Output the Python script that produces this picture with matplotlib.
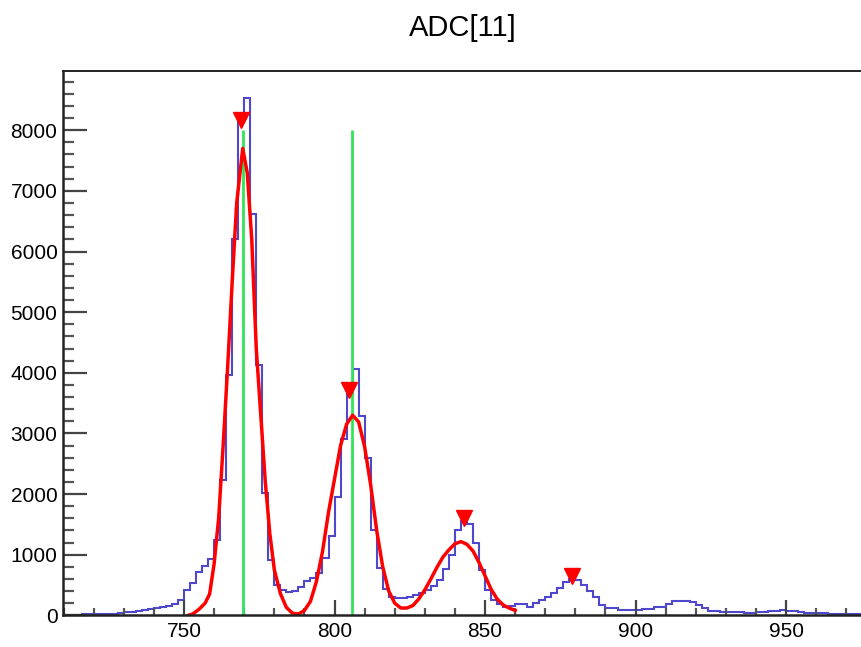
import numpy as np
import matplotlib
matplotlib.use('Agg')
import matplotlib.pyplot as plt
from matplotlib.ticker import MultipleLocator

plt.rcParams['font.family'] = ['Liberation Sans', 'DejaVu Sans']

# histogram: 2-unit bins starting at 710
bin_start = 710
bin_width = 2
counts = [0, 0, 0, 15, 15, 15, 15, 15, 20, 40,
          55, 60, 75, 90, 100, 115, 130, 150, 185, 260,
          420, 540, 720, 820, 930, 1240, 2230, 3960, 6200, 8130,
          8530, 6620, 4130, 2010, 920, 500, 420, 380, 400, 470,
          560, 610, 700, 950, 1300, 1950, 2900, 3650, 4060, 3290,
          2590, 1410, 775, 430, 300, 280, 285, 300, 330, 370,
          420, 490, 580, 760, 1000, 1410, 1550, 1510, 1190, 750,
          420, 250, 180, 145, 150, 185, 180, 145, 200, 250,
          300, 360, 445, 555, 600, 590, 500, 400, 300, 170,
          120, 115, 90, 90, 90, 95, 110, 110, 140, 140,
          190, 240, 240, 240, 215, 170, 120, 75, 75, 50,
          50, 50, 50, 35, 45, 60, 60, 75, 75, 85,
          65, 75, 60, 35, 35, 40, 30, 20, 15, 15,
          15, 15, 15, 15]

# fitted curve
fit_x = [751.5, 753, 755, 757, 758.5, 760, 761.5, 763, 764.5, 766,
         767.5, 769.5, 771, 772.5, 774, 775.5, 777, 778.5, 780, 782,
         784, 786, 788, 790, 792, 794, 796, 798, 800, 802,
         804, 806, 808, 810, 812, 814, 816, 818, 820, 822,
         824, 826, 828, 830, 832, 834, 836, 838, 840, 842,
         844, 846, 848, 850, 852, 854, 856, 858, 860]
fit_y = [0, 25, 100, 200, 350, 850, 1600, 2800, 4100, 5500,
         6800, 7700, 7300, 6200, 4400, 3300, 2200, 1350, 750, 360,
         130, 35, 20, 80, 230, 560, 1050, 1700, 2250, 2800,
         3150, 3300, 3190, 2780, 2150, 1400, 800, 400, 200, 120,
         120, 160, 270, 420, 600, 790, 960, 1080, 1180, 1215,
         1170, 1060, 870, 650, 430, 270, 170, 120, 80]

# peaks found
peak_x = [768.9, 804.8, 843.0, 879.0]
peak_y = [8170, 3716, 1605, 650]

# calibration lines
line_x = [769.6, 805.8]
line_top = 8000

edges = bin_start + bin_width * np.arange(len(counts) + 1)

fig = plt.figure(figsize=(8.62, 6.47), dpi=100)
ax = fig.add_axes([63 / 862, 1 - 615.3 / 647, 808 / 862, (615.3 - 71) / 647])

ax.stairs(counts, edges, color='#4f48cc', lw=1.5, baseline=None)
ax.vlines(line_x, 0, line_top, color='#33e35a', lw=2.0)
ax.plot(fit_x, fit_y, color='#ff0000', lw=2.5)
ax.plot(peak_x, peak_y, 'v', color='#ff0000', ms=11, mec='#ff0000')

ax.set_xlim(709.8, 978.2)
ax.set_ylim(0, 8977)

ax.xaxis.set_major_locator(MultipleLocator(50))
ax.xaxis.set_minor_locator(MultipleLocator(10))
ax.yaxis.set_major_locator(MultipleLocator(1000))
ax.yaxis.set_minor_locator(MultipleLocator(200))

ax.tick_params(axis='x', which='major', direction='in', length=11, width=1.6,
               color='#444444', labelsize=15, pad=5)
ax.tick_params(axis='x', which='minor', direction='in', length=5, width=1.6,
               color='#555555')
ax.tick_params(axis='y', which='major', direction='in', length=17, width=1.6,
               color='#444444', labelsize=15, pad=4)
ax.tick_params(axis='y', which='minor', direction='in', length=8, width=1.6,
               color='#555555')

ax.spines['right'].set_visible(False)
ax.spines['left'].set_linewidth(1.8)
ax.spines['bottom'].set_linewidth(1.8)
ax.spines['top'].set_linewidth(1.4)
for s in ax.spines.values():
    s.set_color('#222222')

fig.text(0.537, 0.957, 'ADC[11]', ha='center', va='center', fontsize=21)

fig.savefig('out.png', dpi=100)
